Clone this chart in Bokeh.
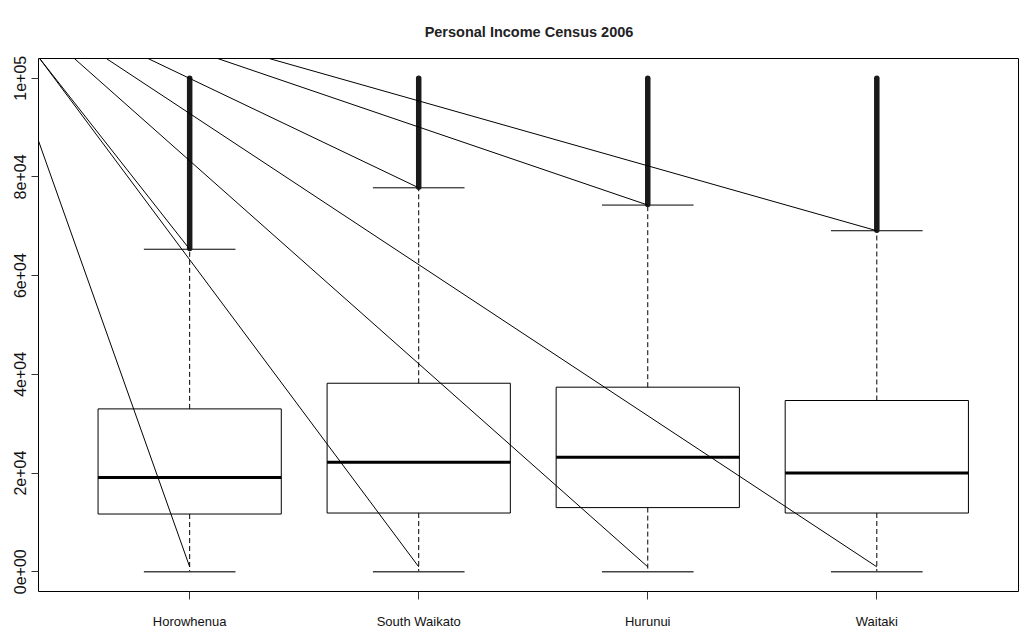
from bokeh.plotting import figure
from bokeh.models import Range1d, FixedTicker, ColumnDataSource
from bokeh.embed import file_html
from bokeh.resources import INLINE

# ---- data ----
districts = ["Horowhenua", "South Waikato", "Hurunui", "Waitaki"]
positions = [1, 2, 3, 4]
q1 = [11700, 11900, 13000, 11900]
median = [19100, 22200, 23200, 20000]
q3 = [33000, 38200, 37400, 34700]
whisker_low = [0, 0, 0, 0]
whisker_high = [65350, 77800, 74300, 69100]
outlier_low = [65500, 77900, 74400, 69200]
outlier_high = [100000, 100000, 100000, 100000]

# stray straight lines drawn over the boxplot (start -> end)
line_start_x = [0.34, 0.345, 0.345, 0.818, 0.4965, 1.122, 0.636, 1.347]
line_start_y = [87300, 104000, 104000, 104000, 104000, 104000, 104000, 104000]
line_end_x = [1, 1, 2, 2, 3, 3, 4, 4]
line_end_y = [1000, 65350, 1000, 77800, 1000, 74300, 1000, 69100]

ytick_values = [0, 20000, 40000, 60000, 80000, 100000]
ytick_labels = ["0e+00", "2e+04", "4e+04", "6e+04", "8e+04", "1e+05"]

title_text = "Personal Income Census 2006"

# ---- figure ----
p = figure(width=1019, height=632, output_backend="svg", toolbar_location=None,
           x_range=Range1d(0.34, 4.623), y_range=Range1d(-4000, 104000),
           min_border_left=38, min_border_right=0, min_border_top=58,
           min_border_bottom=41)
p.background_fill_color = "white"
p.border_fill_color = "white"
p.outline_line_color = "black"
p.outline_line_width = 1
p.grid.visible = False

p.title.text = title_text
p.title.align = "center"
p.title.offset = 4
p.title.text_font = "Liberation Sans"
p.title.text_font_style = "bold"
p.title.text_font_size = "14.5px"
p.title.text_color = "#222222"
p.title.standoff = 37

box_half = 0.4
cap_half = 0.2
src = ColumnDataSource(dict(
    x=positions,
    left=[x - box_half for x in positions],
    right=[x + box_half for x in positions],
    cap_l=[x - cap_half for x in positions],
    cap_r=[x + cap_half for x in positions],
    q1=q1, q3=q3, med=median, wl=whisker_low, wh=whisker_high,
    ol=outlier_low, oh=outlier_high,
))

# whiskers
p.segment(x0="x", y0="q3", x1="x", y1="wh", source=src, line_color="black",
          line_width=1, line_dash="5 3")
p.segment(x0="x", y0="q1", x1="x", y1="wl", source=src, line_color="black",
          line_width=1, line_dash="5 3")
# caps
p.segment(x0="cap_l", y0="wh", x1="cap_r", y1="wh", source=src, line_color="black", line_width=1)
p.segment(x0="cap_l", y0="wl", x1="cap_r", y1="wl", source=src, line_color="#444444", line_width=1.5)
# boxes
p.quad(left="left", right="right", bottom="q1", top="q3", source=src,
       fill_color=None, line_color="black", line_width=1)
# medians
p.segment(x0="left", y0="med", x1="right", y1="med", source=src, line_color="black", line_width=3)
# outliers (dense column of points)
p.segment(x0="x", y0="ol", x1="x", y1="oh", source=src, line_color="#1a1a1a",
          line_width=5.5, line_cap="round")

# stray lines
p.segment(x0=line_start_x, y0=line_start_y, x1=line_end_x, y1=line_end_y,
          line_color="black", line_width=1)

# axes
xa = p.xaxis[0]
xa.ticker = FixedTicker(ticks=positions)
xa.major_label_overrides = {pos: name for pos, name in zip(positions, districts)}
xa.major_tick_out = 8
xa.major_tick_in = 0
xa.minor_tick_line_color = None
xa.axis_line_color = None
xa.major_tick_line_color = "#333333"
xa.major_label_standoff = 14
xa.major_label_text_font = "Liberation Sans"
xa.major_label_text_font_size = "13px"
xa.major_label_text_color = "#111111"

ya = p.yaxis[0]
ya.ticker = FixedTicker(ticks=ytick_values)
ya.major_label_overrides = {v: t for v, t in zip(ytick_values, ytick_labels)}
ya.major_label_orientation = "vertical"
ya.major_tick_out = 7
ya.major_tick_in = 0
ya.minor_tick_line_color = None
ya.axis_line_color = None
ya.major_tick_line_color = "#333333"
ya.major_label_standoff = 5
ya.major_label_text_font = "Liberation Sans"
ya.major_label_text_font_size = "16px"
ya.major_label_text_color = "#111111"

open("out.html", "w").write(file_html(p, INLINE))
